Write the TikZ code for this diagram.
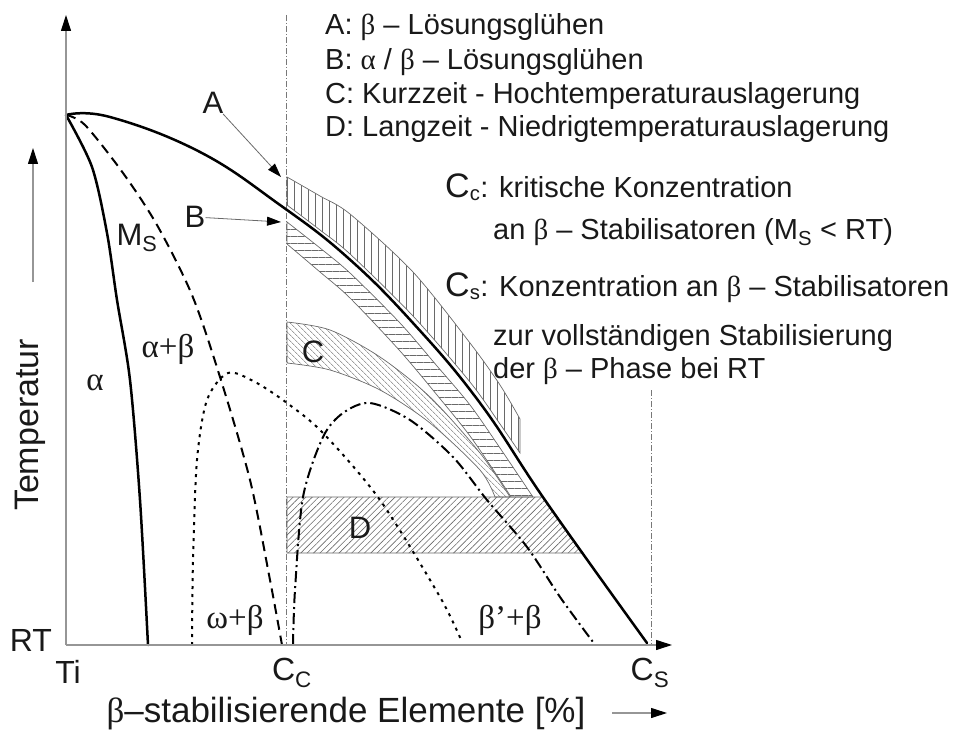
\documentclass[tikz,border=0pt]{standalone}
\usepackage{fontspec}
\setmainfont{Liberation Sans}
\newfontfamily\greekfont{Liberation Serif}
\usepackage{tikz}
\usetikzlibrary{arrows.meta,patterns.meta}
\definecolor{axisgray}{RGB}{150,150,150}
\definecolor{hatchgray}{RGB}{105,105,105}
\definecolor{inkblack}{RGB}{25,25,25}
\newcommand{\gbeta}{{\greekfont β}}
\newcommand{\galpha}{{\greekfont α}}

\begin{document}
\begin{tikzpicture}[x=1pt, y=-1pt,
    every node/.style={inner sep=0pt, text=inkblack},
    legend/.style={anchor=base west, font=\fontsize{29}{33}\selectfont},
    lbl/.style={font=\fontsize{31}{35}\selectfont},
    glbl/.style={font=\fontsize{33}{37}\selectfont\greekfont},
    tick/.style={font=\fontsize{32}{36}\selectfont},
    axlabel/.style={font=\fontsize{34}{38}\selectfont},
    axis/.style={draw=axisgray, line width=1.1pt, -{Triangle[length=16pt,width=10pt,color=black]}},
    pointer/.style={draw=axisgray!70!black, line width=0.8pt, -{Triangle[length=14pt,width=9pt,color=black]}},
    guide/.style={draw=axisgray!80!black, line width=0.7pt, dash pattern=on 6pt off 2pt on 1pt off 2pt},
    band/.style={draw=hatchgray, line width=0.7pt, pattern color=hatchgray},
    phase/.style={draw=black, line width=2.5pt, line cap=round, line join=round},
    msline/.style={draw=black, line width=2pt, dash pattern=on 10pt off 6pt},
    omline/.style={draw=black, line width=2pt, dash pattern=on 3pt off 5pt},
    bpline/.style={draw=black, line width=2pt, dash pattern=on 11pt off 4pt on 2pt off 4pt}
]
\useasboundingbox (0,0) rectangle (962,733);

% axes
\coordinate (O) at (66,645);
\coordinate (ytop) at (66,15);
\coordinate (xend) at (672,645);
\coordinate (cctop) at (286,15);
\coordinate (ccbot) at (286,645);
\coordinate (cstop) at (651,390);
\coordinate (csbot) at (651,645);
\draw[guide] (cctop) -- (ccbot);
\draw[guide] (cstop) -- (csbot);

% heat treatment windows
\draw[band, pattern={Lines[angle=90,distance=7pt,line width=0.7pt]}]
  plot[smooth] coordinates {(287,177) (320,196) (350,214) (413,272) (470,343) (500,385) (520,419)}
  -- plot[smooth] coordinates {(520,453) (500,424) (470,382) (413,316) (350,254) (320,230) (287,205)} -- cycle;
\draw[band, pattern={Lines[angle=0,distance=7pt,line width=0.7pt]}]
  plot[smooth] coordinates {(287,222) (320,248) (350,273) (400,323) (437,366) (470,405) (500,448) (533,497)}
  -- (511,497)
  -- plot[smooth] coordinates {(511,497) (500,480) (470,436) (437,395) (400,351) (350,298) (320,272) (287,244)} -- cycle;
\draw[band, pattern={Lines[angle=-45,distance=4pt,line width=0.6pt]}]
  plot[smooth] coordinates {(287,322) (330,330) (380,357) (430,397) (480,453) (510,497)}
  -- (495,497)
  -- plot[smooth] coordinates {(495,497) (480,470) (430,423) (380,390) (330,370) (287,363)} -- cycle;
\draw[band, pattern={Lines[angle=45,distance=4.5pt,line width=0.6pt]}]
  (287,497) -- (543,497) -- (583,553) -- (287,553) -- cycle;

% phase boundaries
\draw[phase] plot[smooth, tension=0.7] coordinates {(66,115) (110,117) (200,152) (280,205) (347,257) (413,323) (480,403) (547,503) (647,643)};
\draw[phase] plot[smooth] coordinates {(66,115) (92,167) (107,233) (117,300) (130,380) (140,500) (148,645)};
\draw[msline] plot[smooth] coordinates {(66,115) (85,125) (123,173) (157,225) (192,295) (220,377) (250,480) (270,580) (282,645)};
\draw[omline] plot[smooth] coordinates {(192,645) (193,560) (197,460) (207,400) (228,373) (255,382) (287,403) (323,433) (380,500) (440,597) (462,642)};
\draw[bpline] plot[smooth] coordinates {(293,645) (295,590) (303,497) (323,437) (343,413) (370,403) (410,420) (453,457) (487,500) (527,547) (560,597) (593,642)};

\draw[axis] (O) -- (ytop);
\draw[axis] (O) -- (xend);

% region labels
\node[lbl] (labA) at (213,103) {A};
\node[lbl] (labB) at (195,217) {B};
\node[lbl] (labC) at (313,352) {C};
\node[lbl] (labD) at (360,528) {D};
\coordinate (tipA) at (281,177);
\coordinate (tipB) at (281,222);
\draw[pointer] (labA) -- (tipA);
\draw[pointer] (labB) -- (tipB);
\node[lbl] (ms) at (137,238) {M\textsubscript{S}};
\node[glbl] (alpha) at (95,383) {α};
\node[glbl] (alphabeta) at (168,349) {α+β};
\node[glbl] (omegabeta) at (235,620) {ω+β};
\node[glbl] (betaprime) at (510,620) {β’+β};

% legend
\node[legend] (legA) at (325,35) {A: \gbeta{} – Lösungsglühen};
\node[legend] (legB) at (325,70) {B: \galpha{} / \gbeta{} – Lösungsglühen};
\node[legend] (legC) at (325,104) {C: Kurzzeit - Hochtemperaturauslagerung};
\node[legend] (legD) at (325,137) {D: Langzeit - Niedrigtemperaturauslagerung};
\node[legend] (cc1) at (445,197) {{\fontsize{34}{34}\selectfont C}\textsubscript{c}: kritische Konzentration};
\node[legend] (cc2) at (493,240) {an \gbeta{} – Stabilisatoren (M\textsubscript{S} < RT)};
\node[legend] (cs1) at (445,296) {{\fontsize{34}{34}\selectfont C}\textsubscript{s}: Konzentration an \gbeta{} – Stabilisatoren};
\node[legend] (cs2) at (493,345) {zur vollständigen Stabilisierung};
\node[legend] (cs3) at (493,378) {der \gbeta{} – Phase bei RT};

% axis labels
\node[tick] (rt) at (31,640) {RT};
\node[tick] (ti) at (68,672) {Ti};
\node[tick] (ccl) at (292,673) {C\textsubscript{C}};
\node[tick] (csl) at (650,673) {C\textsubscript{S}};
\node[axlabel, rotate=90] (ylab) at (30,425) {Temperatur};
\node[axlabel, font=\fontsize{35}{39}\selectfont] (xlab) at (346,714) {\gbeta–stabilisierende Elemente [\%]};
\coordinate (tarr1) at (33,282);
\coordinate (tarr2) at (33,148);
\coordinate (xarr1) at (612,713);
\coordinate (xarr2) at (667,713);
\draw[axis] (tarr1) -- (tarr2);
\draw[axis] (xarr1) -- (xarr2);
\end{tikzpicture}
\end{document}
